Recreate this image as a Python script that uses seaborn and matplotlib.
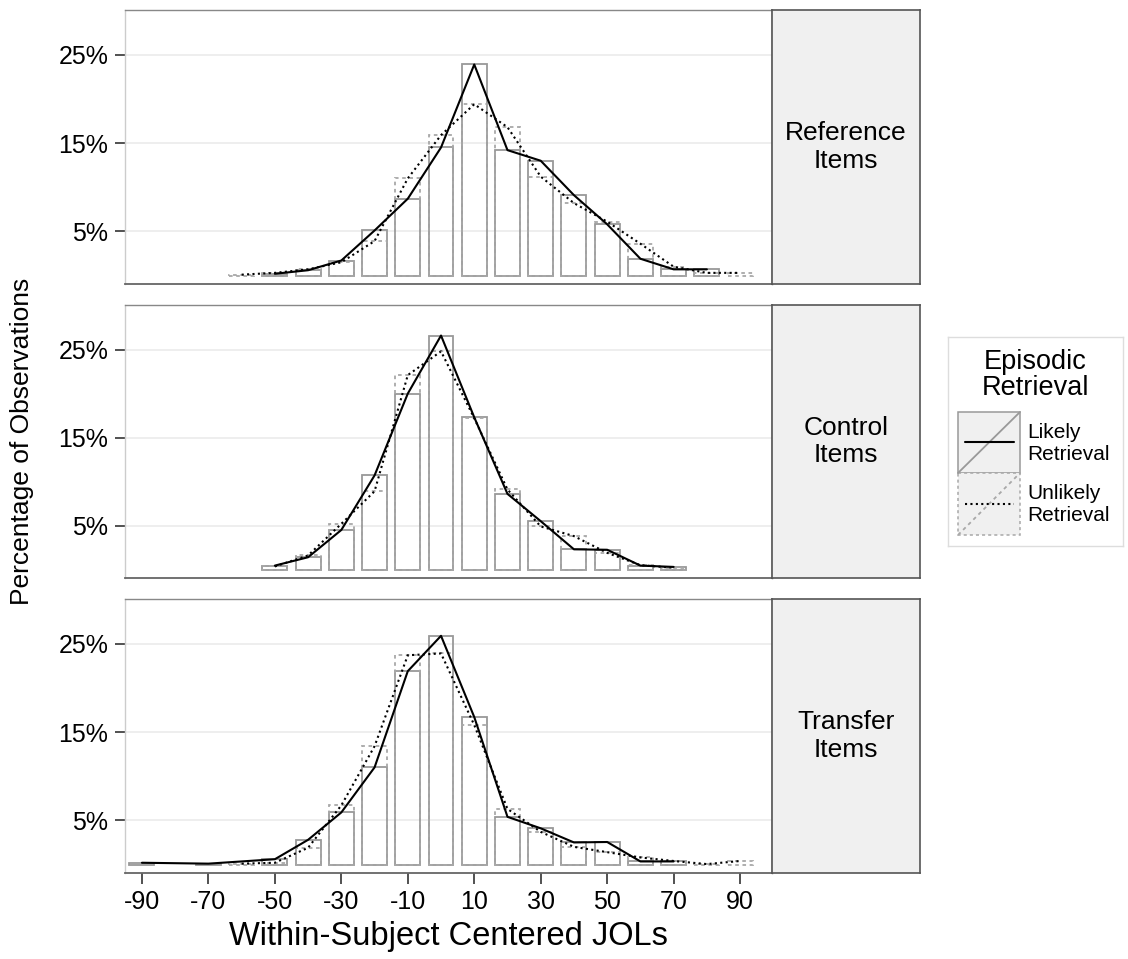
import matplotlib
matplotlib.use("Agg")
import matplotlib.pyplot as plt
import seaborn as sns
import pandas as pd
from matplotlib.patches import Rectangle
from matplotlib.lines import Line2D

# facet labels and conditions
panels = ["Reference\nItems", "Control\nItems", "Transfer\nItems"]
conditions = ["Likely Retrieval", "Unlikely Retrieval"]

# Reference items
ref_likely_x = [-50, -40, -30, -20, -10, 0, 10, 20, 30, 40, 50, 60, 70, 80]
ref_likely_y = [0.2, 0.6, 1.7, 5.1, 8.7, 14.5, 23.9, 14.2, 13.0, 9.1, 5.8, 1.9, 0.7, 0.7]
ref_unlikely_x = [-60, -50, -40, -30, -20, -10, 0, 10, 20, 30, 40, 50, 60, 70, 80, 90]
ref_unlikely_y = [0.1, 0.3, 0.7, 1.5, 3.9, 11.0, 15.9, 19.4, 16.8, 11.2, 8.2, 6.1, 3.6, 1.0, 0.3, 0.3]

# Control items
ctl_likely_x = [-50, -40, -30, -20, -10, 0, 10, 20, 30, 40, 50, 60, 70]
ctl_likely_y = [0.45, 1.4, 4.5, 10.7, 20.0, 26.6, 17.3, 8.6, 5.5, 2.3, 2.25, 0.45, 0.3]
ctl_unlikely_x = [-50, -40, -30, -20, -10, 0, 10, 20, 30, 40, 50, 60, 70]
ctl_unlikely_y = [0.35, 1.6, 5.2, 8.9, 22.1, 24.8, 17.2, 9.1, 4.9, 3.8, 1.9, 0.5, 0.2]

# Transfer items
trn_likely_x = [-90, -70, -50, -40, -30, -20, -10, 0, 10, 20, 30, 40, 50, 60, 70]
trn_likely_y = [0.2, 0.1, 0.6, 2.8, 5.9, 11.0, 21.9, 25.9, 16.7, 5.4, 4.1, 2.5, 2.55, 0.35, 0.35]
trn_unlikely_x = [-60, -50, -40, -30, -20, -10, 0, 10, 20, 30, 40, 50, 60, 70, 80, 90]
trn_unlikely_y = [0.1, 0.2, 1.9, 6.7, 13.4, 23.7, 23.9, 15.8, 6.3, 3.7, 2.0, 1.4, 0.8, 0.4, 0.05, 0.4]

series = [
    (ref_likely_x, ref_likely_y, ref_unlikely_x, ref_unlikely_y),
    (ctl_likely_x, ctl_likely_y, ctl_unlikely_x, ctl_unlikely_y),
    (trn_likely_x, trn_likely_y, trn_unlikely_x, trn_unlikely_y),
]

rows = []
for panel, (lx, ly, ux, uy) in zip(panels, series):
    rows += [{"panel": panel, "cond": conditions[0], "jol": x, "pct": y} for x, y in zip(lx, ly)]
    rows += [{"panel": panel, "cond": conditions[1], "jol": x, "pct": y} for x, y in zip(ux, uy)]
df = pd.DataFrame(rows)

sns.set_theme(style="white")
plt.rcParams["font.family"] = ["Liberation Sans", "DejaVu Sans"]
plt.rcParams["text.color"] = "black"

W, H = 1128, 959
fig = plt.figure(figsize=(W / 100, H / 100), dpi=100)


def box(x0, y0, x1, y1):
    return [x0 / W, 1 - y1 / H, (x1 - x0) / W, (y1 - y0) / H]


panel_y = [(10, 284), (305, 578), (599, 873)]
dotted = (0, (1, 1.6))
styles = {
    conditions[0]: dict(bar_color="#999999", bar_ls="-", line_ls="-"),
    conditions[1]: dict(bar_color="#a8a8a8", bar_ls=(0, (2, 2)), line_ls=dotted),
}

for i, panel in enumerate(panels):
    y0, y1 = panel_y[i]
    ax = fig.add_axes(box(125, y0, 772, y1))
    sub = df[df["panel"] == panel]
    for cond in conditions:
        d = sub[sub["cond"] == cond]
        st = styles[cond]
        sns.barplot(data=d, x="jol", y="pct", native_scale=True, fill=False,
                    color=st["bar_color"], width=0.75, linewidth=1.3,
                    linestyle=st["bar_ls"], errorbar=None, ax=ax, zorder=2)
    for cond in conditions:
        d = sub[sub["cond"] == cond]
        sns.lineplot(data=d, x="jol", y="pct", color="black", linewidth=1.5,
                     linestyle=styles[cond]["line_ls"], ax=ax, zorder=3)

    ax.set_xlim(-95.1, 99.6)
    ax.set_ylim(-0.96, 30.07)
    ax.set_yticks([5, 15, 25])
    ax.set_yticklabels(["5%", "15%", "25%"])
    ax.yaxis.grid(True, color="#ebebeb", linewidth=1.2, zorder=0)
    ax.xaxis.grid(False)
    ax.set_axisbelow(True)
    ax.set_xlabel("")
    ax.set_ylabel("")
    ax.tick_params(axis="y", which="both", left=True, length=7, width=1.1,
                   color="#222222", labelsize=18, pad=5, labelcolor="black")
    if i == 2:
        ax.set_xticks(list(range(-90, 91, 20)))
        ax.set_xticklabels([str(v) for v in range(-90, 91, 20)])
        ax.tick_params(axis="x", bottom=True, length=8, width=1.1,
                       color="#222222", labelsize=18, pad=4, labelcolor="black")
    else:
        ax.set_xticks([])
    ax.spines["top"].set_color("#888888")
    ax.spines["bottom"].set_color("#666666")
    ax.spines["left"].set_color("#cccccc")
    ax.spines["right"].set_color("#555555")
    for s in ax.spines.values():
        s.set_linewidth(1.0)
    ax.spines["bottom"].set_linewidth(1.3)

    # facet strip
    sax = fig.add_axes(box(772, y0, 920, y1))
    sax.set_facecolor("#f0f0f0")
    sax.set_xticks([])
    sax.set_yticks([])
    for s in sax.spines.values():
        s.set_color("#555555")
        s.set_linewidth(1.2)
    sax.text(0.5, 0.5, panel, ha="center", va="center", fontsize=19,
             linespacing=1.2, transform=sax.transAxes)

fig.text(22 / W, 1 - 441 / H, "Percentage of Observations", rotation=90,
         ha="center", va="center", fontsize=19)
fig.text(448 / W, 1 - 937 / H, "Within-Subject Centered JOLs",
         ha="center", va="center", fontsize=23.5)

# legend drawn as its own small panel
lax = fig.add_axes(box(948, 337, 1123, 546))
lax.set_xlim(948, 1123)
lax.set_ylim(546, 337)
lax.set_xticks([])
lax.set_yticks([])
for s in lax.spines.values():
    s.set_color("#dddddd")
    s.set_linewidth(1.0)
lax.text(1035, 375, "Episodic\nRetrieval", ha="center", va="center",
         fontsize=19.5, linespacing=0.98)
keys = [(412, 473, "-", "#999999", "-"), (473, 535, (0, (2, 2)), "#a8a8a8", dotted)]
for (ky0, ky1, bls, bcol, lls), label in zip(keys, conditions):
    lax.add_patch(Rectangle((958, ky0), 62, ky1 - ky0, facecolor="#f0f0f0",
                            edgecolor=bcol, linestyle=bls, linewidth=1.1))
    lax.add_line(Line2D([958, 1020], [ky1, ky0], color=bcol, linestyle=bls, linewidth=1.3))
    lax.add_line(Line2D([965, 1014], [(ky0 + ky1) / 2] * 2, color="black",
                        linestyle=lls, linewidth=1.5))
    lax.text(1027, (ky0 + ky1) / 2 + 1, label.replace(" ", "\n"), ha="left", va="center",
             fontsize=15, linespacing=1.2)

fig.savefig("out.png", dpi=100)
